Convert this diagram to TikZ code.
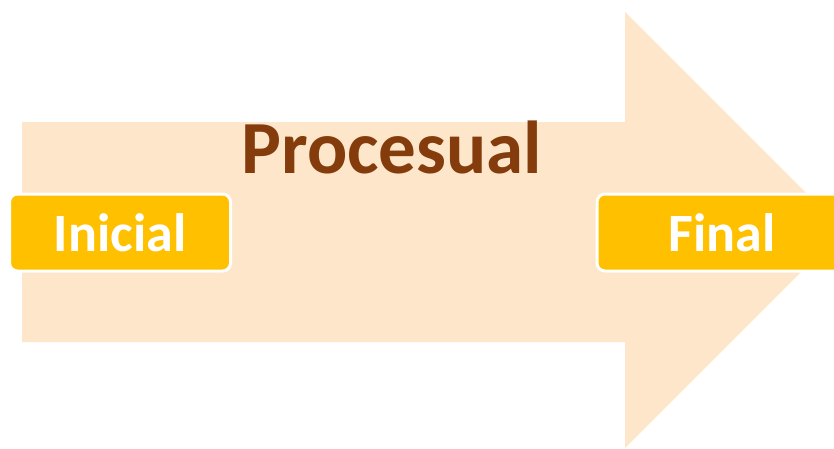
\documentclass[tikz,border=0pt]{standalone}
\usepackage{fontspec}
\setmainfont{Carlito}
\usetikzlibrary{positioning}
\definecolor{peach}{HTML}{FDE6C9}
\definecolor{gold}{HTML}{FFC000}
\definecolor{brownish}{HTML}{843C0C}

\begin{document}
\begin{tikzpicture}[
        x=1pt, y=-1pt,
        stage/.style={rectangle, draw=white, line width=3pt, rounded corners=8pt, fill=gold, text=white, font=\bfseries\fontsize{54}{60}\selectfont, minimum height=77pt, inner sep=0pt},
        title/.style={text=brownish, font=\bfseries\fontsize{75}{80}\selectfont, inner sep=0pt}
    ]

    \useasboundingbox (0,0) rectangle (834,448);
    \clip (0,0) rectangle (834,448);

    % big arrow
    \fill[peach] (22,122) -- (625,122) -- (625,12) -- (843,230) -- (625,448) -- (625,342) -- (22,342) -- cycle;

    \node (proc) [title, anchor=base] at (392,173) {Procesual};

    \node (ini) [stage, minimum width=221pt] at (120,232.5) {Inicial};
    \node (fin) [stage, minimum width=250pt] at (722,232.5) {Final};

\end{tikzpicture}
\end{document}
